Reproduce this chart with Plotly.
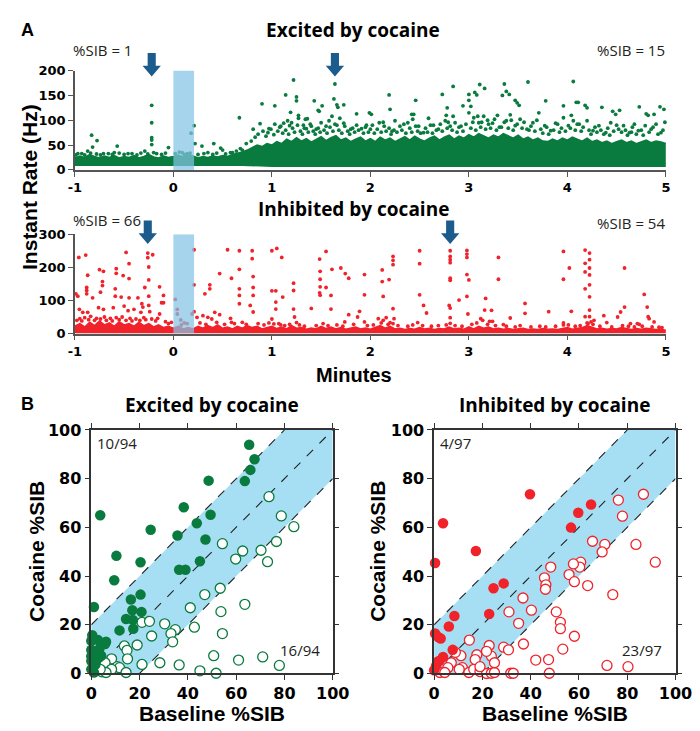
import plotly.graph_objects as go

W, H = 700, 731
GREEN = "#0a7b3e"
RED = "#f0222a"
ARROW = "#1b5c8c"
BAND = "#a6dff3"
RECT = "rgba(132,195,228,0.72)"
AXC = "#555555"

# ---------------- data: panel A ----------------
minute_ticks = [-1, 0, 1, 2, 3, 4, 5]
minute_ticktext = ["-1", "0", "1", "2", "3", "4", "5"]
exc_yticks = [0, 50, 100, 150, 200]
inh_yticks = [0, 100, 200, 300]

# time grid (minutes) on which the dense part of each raster was read
band_t = [-1.00, -0.95, -0.90, -0.85, -0.80, -0.75, -0.70, -0.65, -0.60, -0.55,
          -0.50, -0.45, -0.40, -0.35, -0.30, -0.25, -0.20, -0.15, -0.10, -0.05,
          0.00, 0.05, 0.10, 0.15, 0.20, 0.25, 0.30, 0.35, 0.40, 0.45,
          0.50, 0.55, 0.60, 0.65, 0.70, 0.75, 0.80, 0.85, 0.90, 0.95,
          1.00, 1.05, 1.10, 1.15, 1.20, 1.25, 1.30, 1.35, 1.40, 1.45,
          1.50, 1.55, 1.60, 1.65, 1.70, 1.75, 1.80, 1.85, 1.90, 1.95,
          2.00, 2.05, 2.10, 2.15, 2.20, 2.25, 2.30, 2.35, 2.40, 2.45,
          2.50, 2.55, 2.60, 2.65, 2.70, 2.75, 2.80, 2.85, 2.90, 2.95,
          3.00, 3.05, 3.10, 3.15, 3.20, 3.25, 3.30, 3.35, 3.40, 3.45,
          3.50, 3.55, 3.60, 3.65, 3.70, 3.75, 3.80, 3.85, 3.90, 3.95,
          4.00, 4.05, 4.10, 4.15, 4.20, 4.25, 4.30, 4.35, 4.40, 4.45,
          4.50, 4.55, 4.60, 4.65, 4.70, 4.75, 4.80, 4.85, 4.90, 4.95, 5.00]
exc_band_high = [24, 28, 25, 31, 27, 24, 28, 25, 29, 24,
                 27, 25, 29, 24, 27, 31, 26, 24, 28, 25,
                 27, 30, 26, 31, 28, 24, 27, 25, 28, 26,
                 29, 27, 31, 33, 36, 40, 45, 50, 47, 53,
                 50, 57, 53, 62, 57, 65, 58, 63, 56, 62,
                 67, 59, 65, 69, 60, 64, 57, 62, 66, 58,
                 63, 57, 66, 60, 64, 57, 62, 67, 60, 68,
                 62, 58, 64, 68, 60, 66, 70, 62, 68, 64,
                 71, 66, 73, 68, 64, 70, 66, 73, 68, 64,
                 70, 62, 66, 60, 64, 58, 57, 62, 58, 64,
                 60, 66, 62, 58, 64, 57, 60, 55, 58, 53,
                 57, 60, 55, 58, 53, 57, 60, 55, 58, 56, 53]
exc_low_t = [-1.0, 0.7, 1.0, 5.0]
exc_low_hz = [8, 8, 6, 6]
inh_band_high = [22, 30, 20, 34, 24, 38, 26, 32, 22, 36,
                 26, 30, 22, 34, 24, 30, 20, 26, 18, 22,
                 16, 22, 14, 18, 14, 22, 16, 24, 18, 26,
                 16, 20, 14, 22, 16, 24, 18, 22, 14, 18,
                 22, 15, 20, 14, 24, 16, 18, 13, 17, 14,
                 22, 15, 20, 14, 18, 13, 16, 20, 14, 17,
                 13, 18, 24, 16, 22, 14, 16, 12, 15, 13,
                 18, 14, 16, 12, 15, 14, 20, 14, 16, 13,
                 20, 14, 22, 16, 20, 14, 16, 13, 15, 12,
                 14, 16, 12, 14, 12, 15, 13, 14, 12, 16,
                 18, 13, 15, 18, 24, 20, 14, 16, 13, 15,
                 14, 18, 14, 12, 15, 13, 16, 14, 12, 13, 10]

exc_spikes = [
    (-0.99, 30), (-0.93, 33), (-0.90, 30), (-0.84, 34), (-0.78, 32), (-0.74, 30),
    (-0.66, 33), (-0.62, 31), (-0.55, 34), (-0.50, 31), (-0.42, 33), (-0.37, 30),
    (-0.33, 34), (-0.26, 32), (-0.20, 35), (-0.12, 31), (-0.08, 34), (0.02, 33),
    (0.09, 35), (0.11, 31), (0.17, 34), (0.25, 31), (0.31, 33), (0.40, 31),
    (0.44, 34), (0.53, 32), (0.60, 35), (0.64, 38), (0.70, 40),
    (-0.97, 33), (-0.87, 38), (-0.82, 46), (-0.71, 33), (-0.60, 35), (-0.46, 33),
    (-0.29, 38), (-0.17, 33), (0.06, 36), (0.14, 33), (0.35, 35), (0.50, 40),
    (0.58, 35), (0.68, 43), (0.74, 53), (0.79, 58), (0.83, 66), (0.86, 72),
    (0.91, 78), (0.94, 68), (0.97, 83),
    (0.96, 75), (0.99, 82), (1.02, 71), (1.06, 78), (1.08, 86), (1.11, 74),
    (1.14, 80), (1.17, 72), (1.21, 84), (1.23, 76), (1.26, 90), (1.29, 78),
    (1.31, 72), (1.33, 84), (1.37, 76), (1.39, 92), (1.42, 78), (1.44, 72),
    (1.47, 84), (1.49, 76), (1.53, 80), (1.56, 74), (1.59, 86), (1.62, 78),
    (1.64, 92), (1.68, 80), (1.71, 74), (1.73, 94), (1.77, 78), (1.79, 72),
    (1.82, 84), (1.84, 76), (1.88, 80), (1.93, 74), (1.95, 86), (1.98, 76),
    (2.02, 90), (2.04, 74), (2.07, 82), (2.11, 76), (2.13, 96), (2.16, 78),
    (2.19, 84), (2.21, 72), (2.24, 80), (2.27, 76), (2.32, 80), (2.34, 92),
    (2.36, 74), (2.40, 84), (2.42, 76), (2.46, 88), (2.48, 78), (2.51, 74),
    (2.56, 84), (2.58, 76), (2.61, 90), (2.63, 74), (2.67, 80), (2.71, 92),
    (2.73, 78), (2.78, 84), (2.79, 96), (2.83, 80), (2.88, 76), (2.90, 86),
    (2.94, 78), (2.97, 92), (3.02, 84), (3.04, 96), (3.07, 80), (3.09, 108),
    (3.12, 86), (3.13, 96), (3.17, 82), (3.19, 100), (3.22, 84), (3.24, 94),
    (3.28, 80), (3.29, 110), (3.33, 86), (3.36, 96), (3.40, 84), (3.43, 100),
    (3.45, 80), (3.49, 92), (3.54, 84), (3.56, 96), (3.61, 80), (3.63, 88),
    (3.67, 78), (3.69, 100), (3.73, 82), (3.75, 74), (3.79, 86), (3.81, 72),
    (3.86, 80), (3.88, 94), (3.92, 76), (3.94, 84), (3.98, 78), (4.03, 84),
    (4.04, 110), (4.08, 80), (4.10, 92), (4.14, 78), (4.16, 86), (4.22, 80),
    (4.24, 72), (4.28, 86), (4.30, 76), (4.34, 80), (4.37, 72), (4.41, 84),
    (4.43, 70), (4.47, 78), (4.50, 90), (4.55, 76), (4.59, 80), (4.61, 70),
    (4.65, 76), (4.68, 92), (4.70, 72), (4.75, 80), (4.77, 70), (4.83, 76),
    (4.87, 86), (4.92, 72), (4.97, 80), (4.99, 96),
    (1.03, 92), (1.09, 88), (1.16, 99), (1.18, 89), (1.20, 95), (1.27, 104),
    (1.32, 90), (1.35, 83), (1.40, 88), (1.45, 82), (1.50, 95), (1.55, 88),
    (1.58, 99), (1.66, 90), (1.74, 88), (1.80, 82), (1.86, 90), (1.91, 83),
    (1.96, 90), (2.00, 82), (2.09, 95), (2.14, 88), (2.22, 78), (2.25, 99),
    (2.30, 88), (2.38, 95), (2.43, 102), (2.49, 88), (2.54, 75), (2.59, 104),
    (2.64, 90), (2.69, 82), (2.76, 99), (2.81, 88), (2.86, 95), (2.92, 88),
    (3.00, 115), (3.05, 105), (3.10, 95), (3.15, 108), (3.20, 92), (3.26, 102),
    (3.31, 86), (3.38, 99), (3.42, 111), (3.47, 89), (3.52, 102), (3.59, 82),
    (3.65, 95), (3.71, 115), (3.77, 89), (3.83, 79), (3.90, 92), (3.96, 105),
    (4.01, 89), (4.06, 99), (4.12, 92), (4.20, 99), (4.26, 79), (4.32, 89),
    (4.39, 75), (4.44, 95), (4.52, 82), (4.57, 89), (4.63, 75), (4.66, 86),
    (4.72, 79), (4.79, 89), (4.85, 82), (4.90, 92), (4.95, 75),
    (-0.83, 70), (-0.775, 59), (-0.57, 48), (-0.22, 130), (-0.22, 95), (-0.22, 65),
    (-0.22, 60), (-0.22, 51), (-0.05, 45), (0.21, 89), (0.18, 74), (0.22, 53),
    (0.29, 48), (0.41, 53), (0.48, 44), (0.67, 105), (0.90, 133), (0.88, 93),
    (1.03, 129), (1.14, 151), (1.22, 181), (1.25, 147), (1.25, 139), (1.19, 116),
    (1.27, 110), (1.34, 102), (1.36, 103), (1.12, 94), (0.81, 82), (1.43, 139),
    (1.47, 120), (1.51, 129), (1.48, 118), (1.61, 108), (1.63, 143), (1.64, 173),
    (1.66, 131), (1.67, 126), (1.73, 131), (1.69, 104), (1.86, 113), (1.99, 115),
    (2.01, 112), (2.19, 151), (2.20, 122), (2.42, 112), (2.44, 112), (2.46, 140),
    (2.73, 152), (2.78, 125), (2.77, 110), (2.84, 168), (2.84, 108), (2.94, 129),
    (3.00, 152), (3.00, 140), (3.02, 128), (3.06, 156), (3.08, 151), (3.11, 172),
    (3.16, 164), (3.34, 150), (3.36, 173), (3.38, 158), (3.41, 152), (3.47, 140),
    (3.49, 135), (3.51, 130), (3.60, 177), (3.78, 139), (3.96, 129), (4.06, 178),
    (4.09, 136), (4.11, 136), (4.18, 130), (4.20, 125), (4.35, 126), (4.46, 118),
    (4.49, 112), (4.53, 120), (4.73, 127), (4.80, 113), (4.82, 110), (4.88, 112),
    (4.94, 127), (4.98, 122),
]

inh_spikes = [
    (-0.96, 230), (-0.89, 237), (-0.48, 245), (-0.26, 243), (-0.26, 229), (-0.21, 238),
    (-0.45, 211), (-0.25, 201), (-0.87, 176), (-0.75, 193), (-0.71, 188), (-0.58, 196),
    (-0.58, 182), (-0.51, 175), (-0.45, 166), (-0.25, 162), (-0.72, 157), (-0.72, 145),
    (-0.88, 139), (-0.88, 130), (-0.88, 120), (-0.59, 135), (-0.29, 139), (-0.14, 141),
    (-0.97, 113), (-0.99, 120), (-0.82, 108), (-0.74, 125), (-0.59, 113), (-0.53, 110),
    (-0.10, 115), (-0.25, 113), (-0.45, 108), (-0.36, 108), (0.02, 103), (-0.32, 90),
    (-0.31, 80), (-0.25, 85), (-0.12, 93), (-0.10, 93),
    (-0.954, 73), (-0.92, 64), (-0.87, 64), (-0.76, 78), (-0.71, 73), (-0.61, 78),
    (-0.50, 83), (-0.46, 69), (-0.40, 73), (-0.33, 64), (-0.24, 66), (-0.14, 59),
    (0.04, 73), (0.04, 59), (0.075, 41), (0.11, 32), (0.21, 66), (0.19, 59),
    (0.21, 253), (0.21, 147), (0.55, 253), (0.67, 250), (0.80, 250), (0.80, 226),
    (0.67, 194), (0.47, 181), (0.59, 167), (0.81, 172), (0.81, 139), (0.81, 115),
    (0.37, 147), (0.37, 135), (0.67, 135), (0.67, 115), (0.32, 120), (0.67, 90),
    (0.78, 85), (0.81, 65), (0.42, 64), (0.47, 57), (0.39, 44), (0.35, 49),
    (0.30, 54), (0.24, 49), (0.58, 46), (0.59, 34),
    (1.00, 250), (1.05, 257), (1.10, 230), (1.00, 129), (1.04, 129), (1.04, 95),
    (1.04, 74), (1.11, 110), (1.22, 152), (1.22, 130), (1.22, 74), (1.23, 50),
    (1.25, 33), (1.00, 44), (1.02, 29), (1.09, 26), (1.40, 76), (1.485, 225),
    (1.49, 188), (1.49, 164), (1.49, 141), (1.485, 123), (1.49, 116), (1.55, 248),
    (1.55, 139), (1.60, 115), (1.61, 194), (1.60, 74), (1.70, 198), (1.745, 181),
    (1.78, 167), (1.78, 57), (1.89, 67), (1.87, 50), (1.94, 178), (1.94, 117),
    (1.94, 35), (1.74, 35), (2.12, 192), (2.12, 157), (2.13, 112), (2.19, 163),
    (2.23, 233), (2.23, 221), (2.23, 208), (2.23, 75), (2.08, 45), (2.13, 40),
    (2.16, 48), (2.20, 33), (2.24, 45), (2.23, 30), (2.50, 250), (2.50, 211),
    (2.50, 117), (2.54, 85), (2.57, 62), (2.48, 33), (2.81, 250), (2.81, 233),
    (2.81, 223), (2.81, 214), (2.81, 167), (2.81, 161), (2.80, 85), (2.81, 77),
    (2.81, 48), (2.81, 31), (2.90, 101),
    (2.98, 251), (2.98, 240), (2.98, 230), (2.98, 178), (3.00, 162), (2.98, 112),
    (2.99, 59), (3.17, 106), (3.16, 71), (3.23, 70), (3.12, 45), (3.14, 40),
    (3.21, 37), (3.24, 37), (3.30, 230), (3.30, 164), (3.42, 47), (3.35, 27),
    (3.57, 91), (3.57, 61), (3.81, 66), (3.96, 248), (3.96, 164), (3.96, 32),
    (3.96, 26), (4.02, 198), (4.04, 67), (4.18, 252), (4.225, 243), (4.225, 223),
    (4.225, 198), (4.225, 177), (4.225, 147), (4.225, 111), (4.225, 71), (4.225, 51),
    (4.18, 212), (4.18, 186), (4.18, 135), (4.18, 51), (4.24, 35), (4.27, 40),
    (4.21, 30), (4.37, 54), (4.40, 33), (4.51, 50), (4.54, 65), (4.58, 198),
    (4.58, 80), (4.78, 118), (4.81, 80), (4.82, 51), (4.83, 45), (4.88, 35),
    (4.64, 30), (4.71, 30), (4.73, 28), (4.93, 19),
    (-0.98, 40), (-0.95, 45), (-0.93, 38), (-0.90, 48), (-0.86, 42), (-0.84, 52),
    (-0.80, 40), (-0.78, 46), (-0.74, 44), (-0.70, 50), (-0.68, 40), (-0.64, 46),
    (-0.62, 38), (-0.58, 48), (-0.55, 42), (-0.52, 50), (-0.48, 40), (-0.44, 46),
    (-0.42, 38), (-0.38, 44), (-0.34, 40), (-0.30, 48), (-0.28, 42), (-0.22, 44),
    (-0.18, 38), (-0.16, 46), (-0.08, 36), (-0.05, 30), (-0.02, 34),
    (0.08, 26), (0.14, 30), (0.27, 32), (0.33, 28), (0.44, 34), (0.52, 28),
    (0.62, 30), (0.70, 34), (0.74, 28), (0.86, 30), (0.92, 26), (0.97, 32),
    (1.07, 30), (1.13, 24), (1.18, 28), (1.28, 26), (1.33, 22), (1.45, 24),
    (1.52, 30), (1.57, 24), (1.66, 26), (1.72, 22), (1.83, 28), (1.97, 24),
    (2.03, 26), (2.11, 32), (2.18, 28), (2.28, 24), (2.38, 22), (2.43, 26),
    (2.53, 24), (2.62, 22), (2.69, 24), (2.77, 26), (2.86, 24), (2.93, 22),
    (3.03, 28), (3.08, 32), (3.19, 28), (3.27, 24), (3.38, 22), (3.47, 20),
    (3.52, 24), (3.63, 20), (3.72, 22), (3.78, 20), (3.88, 22), (4.01, 26),
    (4.08, 22), (4.13, 24), (4.20, 32), (4.26, 28), (4.33, 22), (4.45, 20),
    (4.56, 24), (4.62, 22), (4.68, 20), (4.76, 22), (4.86, 20), (4.96, 18),
]

injection_window = (0.0, 0.21)
exc_arrow_t = [-0.22, 1.64]
inh_arrow_t = [-0.26, 2.81]

# ---------------- data: panel B ----------------
sib_ticks = [0, 20, 40, 60, 80, 100]
band_halfwidth = 20

exc_up_x = [65.4, 67.6, 65.9, 63.6, 48.6, 38.3, 49.4, 43.7, 3.7, 24.6, 35.7, 47.3,
            10.4, 20.4, 45.0, 36.4, 39.0, 9.5, 20.4, 16.4, 1.1, 17.0, 20.8, 14.4,
            17.2, 11.7, 17.4, 0.4, 0.0, 2.8, 6.1, 5.7, 0.0, 2.4, 0.0, 3.1, 1.7,
            0.0, 1.1, 4.4, 3.3, 4.1, 0.0]
exc_up_y = [93.9, 88.0, 83.6, 79.0, 79.2, 68.3, 65.2, 61.7, 65.0, 59.0, 56.7, 55.0,
            48.3, 45.7, 46.1, 42.6, 42.6, 38.3, 32.4, 30.4, 27.3, 26.0, 25.3, 22.4,
            22.0, 17.7, 18.4, 15.7, 13.4, 13.7, 13.0, 12.1, 9.7, 8.4, 7.1, 6.4, 3.7,
            1.7, 0.4, 12.4, 10.0, 7.3, 5.1]
exc_dn_x = [73.6, 78.7, 83.9, 54.3, 76.7, 70.3, 62.7, 59.8, 73.0, 53.4, 47.0, 41.0,
            63.6, 53.7, 30.4, 42.7, 21.0, 24.1, 34.8, 33.0, 54.3, 25.0, 33.7, 19.0,
            13.7, 14.8, 15.0, 8.4, 5.7, 21.0, 28.4, 36.4, 10.8, 11.7, 8.4, 4.4,
            6.1, 14.4, 45.0, 51.7, 50.7, 61.0, 71.0, 77.9, 3.7]
exc_dn_y = [72.6, 64.7, 60.3, 53.3, 54.2, 50.6, 50.3, 47.0, 45.9, 35.0, 32.4, 27.0,
            28.4, 25.4, 20.4, 19.0, 21.0, 21.4, 18.0, 16.4, 16.4, 15.4, 13.0, 11.7,
            11.3, 9.5, 6.0, 6.0, 4.4, 3.7, 4.4, 3.5, 2.8, 2.4, 1.7, 0.7,
            0.4, 0.4, 1.1, 0.1, 7.3, 5.5, 6.8, 3.3, 1.7]

inh_up_x = [39.7, 65.0, 59.7, 56.7, 3.7, 17.3, 0.4, 28.8, 24.6, 22.8, 8.4, 6.1,
            0.4, 1.7, 2.7, 7.7, 3.7, 1.3, 0.8, 0.0, 2.2]
inh_up_y = [73.6, 69.4, 66.0, 59.9, 61.7, 50.3, 45.4, 37.0, 35.0, 24.4, 23.6, 19.3,
            16.4, 15.0, 14.4, 9.7, 6.8, 4.7, 3.1, 1.3, 5.2]
inh_dn_x = [86.7, 76.3, 78.0, 65.6, 70.7, 83.6, 69.6, 91.6, 48.3, 60.7, 60.3, 57.7,
            55.9, 45.7, 46.3, 46.1, 58.1, 63.6, 74.0, 36.8, 40.3, 31.0, 50.6, 52.3,
            52.3, 35.0, 58.1, 37.0, 53.3, 28.8, 30.8, 14.6, 22.8, 23.7, 21.7, 17.7,
            17.0, 11.1, 8.8, 7.1, 11.7, 10.4, 14.4, 16.4, 19.0, 21.7, 23.7, 25.0,
            19.0, 5.7, 2.4, 4.4, 25.0, 31.7, 32.8, 42.1, 47.4, 47.7, 71.6, 80.3]
inh_dn_y = [73.6, 71.2, 64.6, 54.3, 53.0, 53.0, 49.9, 45.7, 43.7, 45.7, 43.7, 45.0,
            40.6, 39.3, 36.4, 34.6, 37.7, 36.1, 32.4, 31.0, 26.0, 25.3, 25.3, 21.0,
            18.4, 20.6, 15.3, 12.1, 10.0, 10.8, 9.7, 13.7, 11.5, 7.1, 9.1, 7.7,
            5.7, 7.3, 8.7, 4.4, 2.4, 1.7, 0.4, 1.7, 0.8, 0.0, 0.1, 0.4,
            2.8, 2.4, 0.4, 0.4, 4.4, 0.1, 0.1, 5.5, 5.7, 0.1, 3.3, 2.8]

# ---------------- layout geometry (pixels -> paper) ----------------
def px(x):
    return x / W

def py(y):
    return 1 - y / H

X_RASTER = [px(62), px(674)]
Y_EXC = [py(157), py(55)]
Y_INH = [py(325), py(223)]
X_B1 = [px(79), px(329)]
X_B2 = [px(434), px(684)]
Y_B = [py(674), py(424)]

fig = go.Figure()

# panel A, excited
fig.add_trace(go.Scatter(x=exc_low_t, y=exc_low_hz, mode="lines", line=dict(width=0, color=GREEN),
                         hoverinfo="skip", xaxis="x", yaxis="y"))
fig.add_trace(go.Scatter(x=band_t, y=exc_band_high, mode="lines", line=dict(width=1.5, color=GREEN),
                         fill="tonexty", fillcolor=GREEN, hoverinfo="skip", xaxis="x", yaxis="y"))
fig.add_trace(go.Scatter(x=[p[0] for p in exc_spikes], y=[p[1] for p in exc_spikes], mode="markers",
                         marker=dict(size=3.8, color=GREEN), cliponaxis=False, xaxis="x", yaxis="y"))
# panel A, inhibited
fig.add_trace(go.Scatter(x=band_t, y=inh_band_high, mode="lines", line=dict(width=1.5, color=RED),
                         fill="tozeroy", fillcolor=RED, hoverinfo="skip", xaxis="x2", yaxis="y2"))
fig.add_trace(go.Scatter(x=[p[0] for p in inh_spikes], y=[p[1] for p in inh_spikes], mode="markers",
                         marker=dict(size=3.8, color=RED), cliponaxis=False, xaxis="x2", yaxis="y2"))

# panel B
def filled(x, y, color, xa, ya):
    return go.Scatter(x=x, y=y, mode="markers", cliponaxis=False, xaxis=xa, yaxis=ya,
                      marker=dict(size=10.5, color=color, line=dict(width=0)))

def hollow(x, y, color, xa, ya):
    return go.Scatter(x=x, y=y, mode="markers", cliponaxis=False, xaxis=xa, yaxis=ya,
                      marker=dict(size=10, color="white", line=dict(width=1.3, color=color)))

fig.add_trace(hollow(exc_dn_x, exc_dn_y, GREEN, "x3", "y3"))
fig.add_trace(filled(exc_up_x, exc_up_y, GREEN, "x3", "y3"))
fig.add_trace(hollow(inh_dn_x, inh_dn_y, RED, "x4", "y4"))
fig.add_trace(filled(inh_up_x, inh_up_y, RED, "x4", "y4"))

tickfont_a = dict(family="DejaVu Sans", size=13, color="black", weight="bold")
tickfont_b = dict(family="DejaVu Sans", size=16, color="black", weight="bold")

raster_x = dict(range=[-1, 5], tickvals=minute_ticks, ticktext=minute_ticktext, showline=True,
                linecolor=AXC, linewidth=1.5, ticks="outside", ticklen=5, tickwidth=1.3,
                tickcolor=AXC, showgrid=False, zeroline=False, tickfont=tickfont_a)
raster_y = dict(showline=True, linecolor=AXC, linewidth=1.5, ticks="outside", ticklen=5,
                tickwidth=1.3, tickcolor=AXC, showgrid=False, zeroline=False, tickfont=tickfont_a)
sib_ax = dict(range=[0, 100], tickvals=sib_ticks, showline=True, linecolor="#333333", linewidth=1.5,
              mirror="ticks", ticks="outside", ticklen=5, tickwidth=1.3, tickcolor="#333333",
              showgrid=False, zeroline=False, tickfont=tickfont_b)

fig.update_layout(
    width=W, height=H, autosize=False, margin=dict(l=0, r=0, t=0, b=0),
    paper_bgcolor="white", plot_bgcolor="white", showlegend=False,
    xaxis=dict(domain=X_RASTER, anchor="y", **raster_x),
    yaxis=dict(domain=Y_EXC, anchor="x", range=[0, 200], tickvals=exc_yticks, **raster_y),
    xaxis2=dict(domain=X_RASTER, anchor="y2", **raster_x),
    yaxis2=dict(domain=Y_INH, anchor="x2", range=[0, 300], tickvals=inh_yticks, **raster_y),
    xaxis3=dict(domain=X_B1, anchor="y3", **sib_ax),
    yaxis3=dict(domain=Y_B, anchor="x3", **sib_ax),
    xaxis4=dict(domain=X_B2, anchor="y4", **sib_ax),
    yaxis4=dict(domain=Y_B, anchor="x4", **sib_ax),
)

shapes = []
# injection window rectangles
for xa, ya, top in (("x", "y", 200), ("x2", "y2", 300)):
    shapes.append(dict(type="rect", xref=xa, yref=ya, x0=injection_window[0], x1=injection_window[1],
                       y0=0, y1=top, fillcolor=RECT, line=dict(width=0), layer="above"))

# unity band and dashed lines for panel B
d = band_halfwidth
for xa, ya in (("x3", "y3"), ("x4", "y4")):
    shapes.append(dict(type="path", xref=xa, yref=ya, layer="below", fillcolor=BAND, line=dict(width=0),
                       path=f"M 0 0 L 0 {d} L {100 - d} 100 L 100 100 L 100 {100 - d} L {d} 0 Z"))
    for off in (-d, 0, d):
        x0, y0 = max(0, -off), max(0, off)
        x1, y1 = min(100, 100 - off), min(100, 100 + off)
        shapes.append(dict(type="line", xref=xa, yref=ya, layer="below", x0=x0, y0=y0, x1=x1, y1=y1,
                           line=dict(color="#222222", width=1.1, dash="dash")))

# arrows (paper coordinates derived from the minute axis)
def t_to_px(t):
    return 62 + (t + 1) / 6 * (674 - 62)

def arrow(t, top, head, tip):
    cx = t_to_px(t)
    sw, hw = 4.2, 9.5
    pts = [(cx - sw, top), (cx + sw, top), (cx + sw, head), (cx + hw, head), (cx, tip),
           (cx - hw, head), (cx - sw, head)]
    p = "M " + " L ".join(f"{px(x):.5f} {py(y):.5f}" for x, y in pts) + " Z"
    return dict(type="path", xref="paper", yref="paper", path=p, fillcolor=ARROW,
                line=dict(width=0), layer="above")

for t in exc_arrow_t:
    shapes.append(arrow(t, 37, 50, 61))
for t in inh_arrow_t:
    shapes.append(arrow(t, 209, 222, 233))

fig.update_layout(shapes=shapes)

ann = []
def text(x, y, s, size, family="Open Sans", weight="normal", xanchor="center", angle=0, color="black"):
    ann.append(dict(x=px(x), y=py(y), xref="paper", yref="paper", text=s, showarrow=False,
                    xanchor=xanchor, yanchor="middle", textangle=angle,
                    font=dict(family=family, size=size, color=color, weight=weight)))

text(4, 13, "A", 18, family="Liberation Sans", weight="bold", xanchor="left")
text(4, 397, "B", 18, family="Liberation Sans", weight="bold", xanchor="left")
text(350, 13, "Excited by cocaine", 19, weight="bold")
text(350, 197, "Inhibited by cocaine", 19, weight="bold")
text(58, 34, "%SIB = 1", 15, xanchor="left", color="#222")
text(675, 34, "%SIB = 15", 15, xanchor="right", color="#222")
text(58, 208, "%SIB = 66", 15, xanchor="left", color="#222")
text(675, 212, "%SIB = 54", 15, xanchor="right", color="#222")
text(15, 174, "Instant Rate (Hz)", 21, family="Liberation Sans", weight="bold", angle=-90)
text(351, 368, "Minutes", 20, family="Liberation Sans", weight="bold")

text(204, 398, "Excited by cocaine", 19, weight="bold")
text(559, 398, "Inhibited by cocaine", 19, weight="bold")
text(23, 549, "Cocaine %SIB", 21, family="Liberation Sans", weight="bold", angle=-90)
text(376, 549, "Cocaine %SIB", 21, family="Liberation Sans", weight="bold", angle=-90)
text(204, 715, "Baseline %SIB", 21, family="Liberation Sans", weight="bold")
text(559, 715, "Baseline %SIB", 21, family="Liberation Sans", weight="bold")
text(83, 437, "10/94", 15, xanchor="left", color="#222")
text(318, 650, "16/94", 15, xanchor="right", color="#222")
text(438, 437, "4/97", 15, xanchor="left", color="#222")
text(672, 650, "23/97", 15, xanchor="right", color="#222")

fig.update_layout(annotations=ann)
fig.write_html("out.html")
